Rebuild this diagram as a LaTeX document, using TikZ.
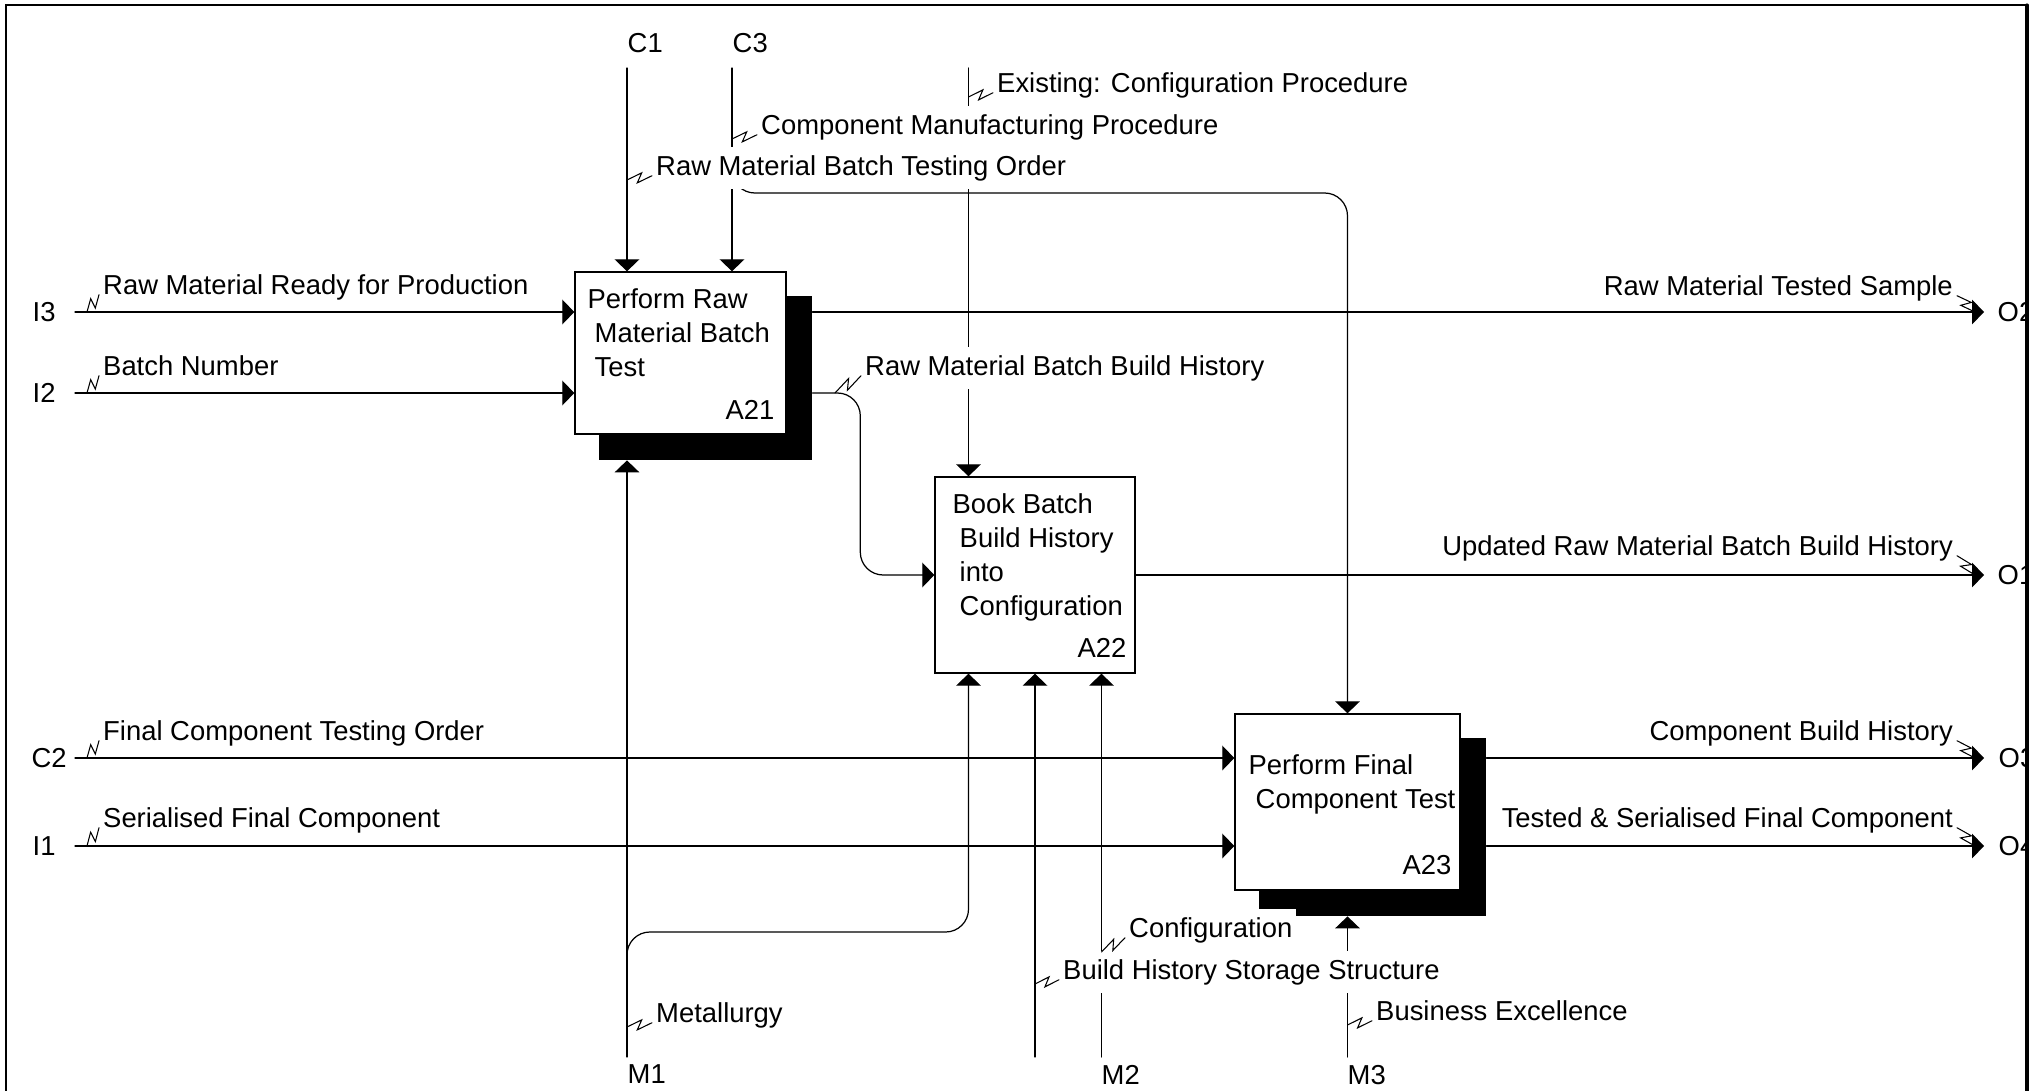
\documentclass[tikz,border=0pt]{standalone}
\usepackage{fontspec}
\setmainfont{Liberation Sans}
\usetikzlibrary{arrows.meta}
\usetikzlibrary{backgrounds}
\usetikzlibrary{calc}
\usetikzlibrary{fit}
\definecolor{dgink}{HTML}{000000}
\definecolor{dgpaper}{HTML}{FFFFFF}
\tikzset{
  dgbox/.style={draw=dgink, fill=dgpaper, line width=0.4pt, inner sep=0pt},
  dgshadow/.style={fill=dgink, inner sep=0pt},
  dgflow/.style={draw=dgink, line width=0.35pt,
    -{Triangle[length=3.4pt, width=7pt]}},
  dgsquigline/.style={draw=dgink, line width=0.3pt},
  dgtext/.style={font=\fontsize{7.8}{9.7}\selectfont, text=dgink},
  dglabel/.style={dgtext, fill=dgpaper, inner xsep=1pt, inner ysep=2.2pt,
    text height=6pt, text depth=1.6pt},
  dgicom/.style={dgtext, inner sep=0pt, anchor=west},
  dgframe/.style={draw=dgink, line width=0.45pt},
  every picture/.style={line cap=round},
}
\newcommand{\dgsquig}[2]{%
  \draw[dgsquigline] (#1) -- ($(#1)!0.62!(#2)!1.3pt!90:(#2)$)
    -- ($(#1)!0.38!(#2)!1.3pt!-90:(#2)$) -- (#2);}

\begin{document}
\begin{tikzpicture}[x=1cm, y=1cm,
  boxtxt/.style={dgtext, align=left, inner sep=0pt, anchor=north west},
  boxid/.style={dgtext, inner sep=0pt, anchor=east}]

\useasboundingbox (0,0) rectangle (20.4,-10.91);

% Activity boxes.
\node[dgbox, minimum width=2.11cm, minimum height=1.62cm] (a21)
  at (6.805,-3.53) {};
\node[dgbox, minimum width=2.00cm, minimum height=1.96cm] (a22)
  at (10.35,-5.75) {};
\node[dgbox, minimum width=2.25cm, minimum height=1.76cm] (a23)
  at (13.475,-8.02) {};
\begin{scope}[on background layer]
\foreach \b in {a21, a23} {
  \node[dgshadow, fit={([shift={(0.25,-0.25)}]\b.north west)
    ([shift={(0.25,-0.25)}]\b.south east)}] (sh\b) {};
}
\end{scope}

\node[boxtxt] (a21txt) at (5.87,-2.88)
  {Perform Raw\\\hspace*{2pt}Material Batch\\\hspace*{2pt}Test};
\node[boxid] (a21id) at (7.75,-4.10) {A21};
\node[boxtxt] (a22txt) at (9.52,-4.93)
  {Book Batch\\\hspace*{2pt}Build History\\\hspace*{2pt}into\\
   \hspace*{2pt}Configuration};
\node[boxid] (a22id) at (11.27,-6.48) {A22};
\node[boxtxt] (a23txt) at (12.48,-7.54)
  {Perform Final\\\hspace*{2pt}Component Test};
\node[boxid] (a23id) at (14.52,-8.65) {A23};

% ------------------------------------------------------------ boundary
\coordinate (c1s) at (6.27,-0.68);
\coordinate (c3s) at (7.32,-0.68);
\coordinate (ecs) at (9.685,-0.68);
\coordinate (i3s) at (0.75,-3.12);
\coordinate (i2s) at (0.75,-3.93);
\coordinate (c2s) at (0.75,-7.58);
\coordinate (i1s) at (0.75,-8.46);
\coordinate (o2e) at (19.84,-3.12);
\coordinate (o1e) at (19.84,-5.75);
\coordinate (o3e) at (19.84,-7.58);
\coordinate (o4e) at (19.84,-8.46);
\coordinate (m1s) at (6.27,-10.57);
\coordinate (bhs) at (10.35,-10.57);
\coordinate (m2s) at (11.015,-10.57);
\coordinate (m3s) at (13.475,-10.57);
\coordinate (c3fork) at (7.32,-1.75);
\coordinate (c3turn) at (13.475,-1.93);
\coordinate (m1fork) at (6.27,-9.6);
\coordinate (m1turn) at (9.685,-9.32);

\node[dgicom] (c1) at (6.27,-0.43) {C1};
\node[dgicom] (c3) at (7.32,-0.43) {C3};
\node[dgicom] (i3) at (0.32,-3.12) {I3};
\node[dgicom] (i2) at (0.32,-3.93) {I2};
\node[dgicom] (c2) at (0.31,-7.58) {C2};
\node[dgicom] (i1) at (0.32,-8.46) {I1};
\node[dgicom] (m1) at (6.27,-10.74) {M1};
\node[dgicom] (m2) at (11.01,-10.75) {M2};
\node[dgicom] (m3) at (13.47,-10.75) {M3};

% ---------------------------------------------------------- connectors
\draw[dgflow] (c1s) -- (a21.north -| c1s);
\draw[dgflow] (c3s) -- (a21.north -| c3s);
\draw[dgflow, rounded corners=6.5pt] (c3fork) |- (c3turn) -- (a23.north);
\draw[dgflow] (ecs) -- (a22.north -| ecs);

\draw[dgflow] (i3s) -- (a21.west |- i3s);
\draw[dgflow] (i2s) -- (a21.west |- i2s);
\draw[dgflow] (c2s) -- (a23.west |- c2s);
\draw[dgflow] (i1s) -- (a23.west |- i1s);

\draw[dgflow] (sha21.east |- o2e) -- (o2e);
\draw[dgflow, rounded corners=6.5pt] (sha21.east |- i2s)
  -| ($(a22.west)+(-0.74,0)$) -- (a22.west);
\draw[dgflow] (a22.east) -- (o1e);
\draw[dgflow] (sha23.east |- o3e) -- (o3e);
\draw[dgflow] (sha23.east |- o4e) -- (o4e);

\draw[dgflow] (m1s) -- (sha21.south -| m1s);
\draw[dgflow, rounded corners=6.5pt] (m1fork) |- (m1turn)
  -- (a22.south -| m1turn);
\draw[dgflow] (bhs) -- (a22.south);
\draw[dgflow] (m2s) -- (a22.south -| m2s);
\draw[dgflow] (m3s) -- (sha23.south -| m3s);

% -------------------------------------------------------------- labels
\node[dglabel, anchor=west] (i3lbl) at (0.99,-2.87)
  {Raw Material Ready for Production};
\node[dglabel, anchor=west] (i2lbl) at (0.99,-3.68) {Batch Number};
\node[dglabel, anchor=west] (c2lbl) at (0.99,-7.33)
  {Final Component Testing Order};
\node[dglabel, anchor=west] (i1lbl) at (0.99,-8.20)
  {Serialised Final Component};
\node[dglabel, anchor=west] (c1lbl) at (6.52,-1.68)
  {Raw Material Batch Testing Order};
\node[dglabel, anchor=west] (c3lbl) at (7.57,-1.27)
  {Component Manufacturing Procedure};
\node[dglabel, anchor=west] (eclbl) at (9.93,-0.85)
  {Existing: Configuration Procedure};
\node[dglabel, anchor=west] (histlbl) at (8.61,-3.68)
  {Raw Material Batch Build History};
\node[dglabel, anchor=west] (m1lbl) at (6.52,-10.15) {Metallurgy};
\node[dglabel, anchor=west] (bhslbl) at (10.59,-9.72)
  {Build History Storage Structure};
\node[dglabel, anchor=west] (m2lbl) at (11.25,-9.30) {Configuration};
\node[dglabel, anchor=west] (m3lbl) at (13.72,-10.13) {Business Excellence};
\node[dglabel, anchor=east] (o2lbl) at (19.57,-2.88)
  {Raw Material Tested Sample};
\node[dglabel, anchor=east] (o1lbl) at (19.57,-5.48)
  {Updated Raw Material Batch Build History};
\node[dglabel, anchor=east] (o3lbl) at (19.57,-7.33)
  {Component Build History};
\node[dglabel, anchor=east] (o4lbl) at (19.57,-8.20)
  {Tested \& Serialised Final Component};

% Squiggles.
\dgsquig{0.87,-3.12}{i3lbl.base west}
\dgsquig{0.87,-3.93}{i2lbl.base west}
\dgsquig{0.87,-7.58}{c2lbl.base west}
\dgsquig{0.87,-8.46}{i1lbl.base west}
\dgsquig{6.27,-1.80}{c1lbl.base west}
\dgsquig{7.32,-1.39}{c3lbl.base west}
\dgsquig{9.685,-0.97}{eclbl.base west}
\dgsquig{8.35,-3.93}{histlbl.base west}
\dgsquig{6.27,-10.27}{m1lbl.base west}
\dgsquig{10.35,-9.84}{bhslbl.base west}
\dgsquig{11.015,-9.52}{m2lbl.base west}
\dgsquig{13.475,-10.25}{m3lbl.base west}
\dgsquig{19.75,-3.12}{o2lbl.base east}
\dgsquig{19.75,-5.75}{o1lbl.base east}
\dgsquig{19.75,-7.58}{o3lbl.base east}
\dgsquig{19.75,-8.46}{o4lbl.base east}

% Outputs, cut by the frame.
\begin{scope}
\clip (0,0) rectangle (20.27,-10.91);
\node[dgicom] (o2) at (19.97,-3.12) {O2};
\node[dgicom] (o1) at (19.97,-5.75) {O1};
\node[dgicom] (o3) at (19.98,-7.58) {O3};
\node[dgicom] (o4) at (19.98,-8.46) {O4};
\end{scope}

% Frame.
\draw[dgframe] (0.06,-0.05) rectangle (20.27,-11.3);
\draw[dgink, line width=0.9pt] (20.27,-0.05) -- (20.27,-11.3);

\end{tikzpicture}
\end{document}
